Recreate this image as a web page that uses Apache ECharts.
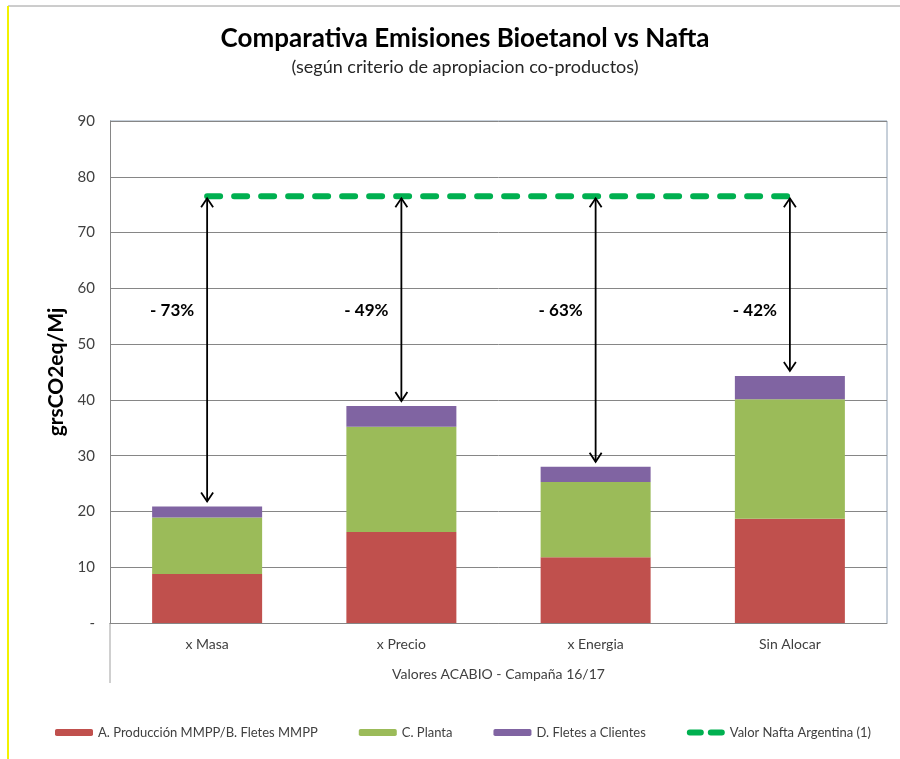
<!DOCTYPE html>
<html>
<head>
<meta charset="utf-8">
<script src="https://cdn.jsdelivr.net/npm/echarts@6/dist/echarts.min.js"></script>
<style>
  html, body { margin: 0; padding: 0; background: #fff; }
  #chart { width: 900px; height: 759px; }
</style>
</head>
<body>
<div id="chart"></div>
<script>
// datos (grsCO2eq/Mj)
const categories = ['x Masa', 'x Precio', 'x Energia', 'Sin Alocar']
const produccion = [8.8, 16.3, 11.8, 18.7]
const planta = [10.1, 18.9, 13.5, 21.4]
const fletes = [2.0, 3.7, 2.7, 4.2]
const nafta = [76.5, 76.5, 76.5, 76.5]
const reduccion = ['- 73%', '- 49%', '- 63%', '- 42%']
const labelLevel = [56, 56, 56, 56]

const names = [
  'A. Producción MMPP/B. Fletes MMPP',
  'C. Planta',
  'D. Fletes a Clientes',
  'Valor Nafta Argentina (1)'
]

const FONT = 'Lato, "Open Sans", sans-serif'

const totals = categories.map((c, i) => produccion[i] + planta[i] + fletes[i])
const arrowData = categories.map((c, i) => [i, nafta[i], totals[i], labelLevel[i]])

// icono de leyenda: dos trazos redondeados
const dashIcon = 'path://M3,0H14A3,3 0 0 1 14,6H3A3,3 0 0 1 3,0Z M24,0H35A3,3 0 0 1 35,6H24A3,3 0 0 1 24,0Z'

const chart = echarts.init(document.getElementById('chart'))

function renderArrow(params, api) {
  const i = api.value(0)
  const top = api.coord([i, api.value(1)])
  const bot = api.coord([i, api.value(2)])
  const lab = api.coord([i, api.value(3)])
  const x = top[0]
  const y1 = top[1] + 2
  const y2 = bot[1] - 5
  const st = { stroke: '#000', lineWidth: 1.8, fill: null }
  return {
    type: 'group',
    children: [
      { type: 'line', shape: { x1: x, y1: y1, x2: x, y2: y2 }, style: st },
      { type: 'polyline', shape: { points: [[x - 6, y1 + 9], [x, y1], [x + 6, y1 + 9]] }, style: st },
      { type: 'polyline', shape: { points: [[x - 6, y2 - 9], [x, y2], [x + 6, y2 - 9]] }, style: st },
      {
        type: 'text',
        x: lab[0] - 35,
        y: lab[1],
        style: {
          text: reduccion[i],
          font: 'bold 17px ' + FONT,
          fill: '#000',
          align: 'center',
          verticalAlign: 'middle'
        }
      }
    ]
  }
}

chart.setOption({
  backgroundColor: '#fff',
  animation: false,
  title: {
    text: 'Comparativa Emisiones Bioetanol vs Nafta',
    subtext: '(según criterio de apropiacion co-productos)',
    left: 460,
    textAlign: 'center',
    top: 21,
    itemGap: 6,
    textStyle: { fontFamily: FONT, fontSize: 26, fontWeight: 'bold', color: '#000' },
    subtextStyle: { fontFamily: FONT, fontSize: 18, color: '#262626' }
  },
  legend: {
    data: [
      { name: names[0] },
      { name: names[1] },
      { name: names[2] },
      { name: names[3], icon: dashIcon, itemStyle: { color: '#00B050' } }
    ],
    left: 50,
    top: 721,
    itemWidth: 38,
    itemHeight: 7,
    itemGap: 41,
    textStyle: { fontFamily: FONT, fontSize: 13, color: '#404040' }
  },
  grid: { left: 110, right: 13, top: 121, bottom: 136 },
  xAxis: {
    type: 'category',
    data: categories,
    name: 'Valores ACABIO - Campaña 16/17',
    nameLocation: 'middle',
    nameGap: 44,
    nameTextStyle: { fontFamily: FONT, fontSize: 14, color: '#404040' },
    axisTick: { show: false },
    axisLine: { lineStyle: { color: '#868686' } },
    axisLabel: { fontFamily: FONT, fontSize: 14, color: '#404040', margin: 14 }
  },
  yAxis: {
    type: 'value',
    min: 0,
    max: 90,
    interval: 10,
    name: 'grsCO2eq/Mj',
    nameLocation: 'middle',
    nameGap: 35,
    nameTextStyle: { fontFamily: FONT, fontSize: 21, fontWeight: 'bold', color: '#000' },
    axisLine: { show: true, lineStyle: { color: '#868686' } },
    axisTick: { show: false },
    axisLabel: {
      fontFamily: FONT, fontSize: 15, color: '#404040', margin: 15,
      formatter: v => (v === 0 ? '-' : v)
    },
    splitLine: { lineStyle: { color: '#868686', width: 1 } }
  },
  graphic: [
    // borde del area de trazado
    { type: 'line', shape: { x1: 110, y1: 121, x2: 887, y2: 121 }, style: { stroke: '#8EA0B4', lineWidth: 1 } },
    { type: 'line', shape: { x1: 887, y1: 121, x2: 887, y2: 623 }, style: { stroke: '#8EA0B4', lineWidth: 1 } },
    { type: 'line', shape: { x1: 110, y1: 623, x2: 110, y2: 683 }, style: { stroke: '#A0A0A0', lineWidth: 1 } },
    // marco exterior
    { type: 'line', shape: { x1: 8, y1: 6, x2: 900, y2: 6 }, style: { stroke: '#9A9A9A', lineWidth: 1 } },
    { type: 'line', shape: { x1: 8, y1: 6, x2: 8, y2: 759 }, style: { stroke: '#F2F200', lineWidth: 2 } }
  ],
  series: [
    {
      name: names[0], type: 'bar', stack: 'e', barWidth: 110,
      itemStyle: { color: '#C0504D' }, data: produccion
    },
    {
      name: names[1], type: 'bar', stack: 'e',
      itemStyle: { color: '#9BBB59' }, data: planta
    },
    {
      name: names[2], type: 'bar', stack: 'e',
      itemStyle: { color: '#8064A2' }, data: fletes
    },
    {
      name: names[3], type: 'line', symbol: 'none', z: 5,
      itemStyle: { color: '#00B050' },
      lineStyle: { color: '#00B050', width: 6, type: [13, 14], cap: 'round' },
      data: nafta
    },
    {
      type: 'custom', z: 6,
      renderItem: renderArrow,
      data: arrowData
    }
  ]
})
</script>
</body>
</html>
